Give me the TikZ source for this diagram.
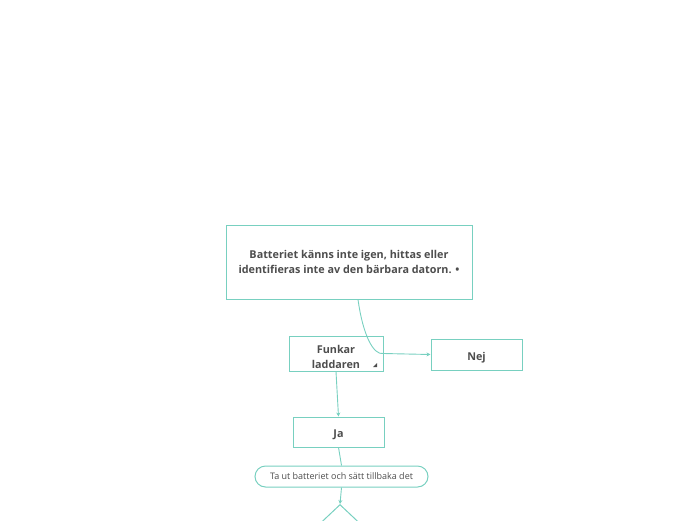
\documentclass[tikz,border=0pt]{standalone}
\usepackage{fontspec}
\setmainfont{Open Sans}
\usetikzlibrary{arrows.meta,positioning,calc}
\usetikzlibrary{shapes.geometric}

\definecolor{mapline}{RGB}{120,208,192}
\definecolor{maptext}{RGB}{77,77,77}

\tikzset{
  topic/.style={draw=mapline,line width=1pt,rectangle,text=maptext,
    font=\fontsize{10.8}{15}\selectfont\bfseries,align=center,anchor=center},
  leaf/.style={draw=mapline,line width=1pt,rectangle,rounded corners=10.5pt,
    text=maptext,font=\fontsize{9}{11}\selectfont,anchor=center},
  conn/.style={draw=mapline,line width=0.9pt},
  tip/.style={-{Stealth[length=4pt,width=4pt]}}
}

\begin{document}
\begin{tikzpicture}[x=1pt,y=1pt]

      \clip (0,0) rectangle (696,-520);

      \node[topic,minimum width = 246pt, minimum height = 74pt] at (349,-262) (batt)
        {Batteriet känns inte igen, hittas eller\\identifieras inte av den bärbara datorn. •};

      \node[topic,minimum width = 94pt, minimum height = 35pt] at (336,-353.5) (funkar) {};
      \node[text=maptext,font=\fontsize{10.8}{15}\selectfont\bfseries,align=center,anchor=center]
        at (336,-357) (funkartxt) {Funkar\\laddaren};
      \fill[maptext] (373,-367) -- (377,-367) -- (377,-363) -- cycle;

      \node[topic,text height=11pt,text depth=0pt,minimum width = 91pt, minimum height = 31pt]
        at (476.5,-354.5) (nej) {Nej};

      \node[topic,text height=10pt,text depth=0pt,minimum width = 91pt, minimum height = 30pt]
        at (338.5,-432) (ja) {Ja};

      \node[leaf,minimum width = 173pt, minimum height = 21pt] at (341.5,-476.5) (tautbat)
        {Ta ut batteriet och sätt tillbaka det};

      \node[draw=mapline,line width=1pt,diamond,shape aspect=1,minimum width = 70pt,
        minimum height = 66pt,anchor = north] at (340,-504) (fraga) {};

      \coordinate (battout) at ($(batt.south)+(9,0)$);
      \draw[conn,tip] (battout) .. controls ($(battout)+(5,-36)$) and ($(funkar.east)+(-10,-2)$) .. (funkar.east) -- (nej.west);
      \draw[conn,tip] (funkar.south) -- (ja.north);
      \draw[conn] (ja.south) -- (tautbat.north);
      \draw[conn,tip] (tautbat.south) -- (fraga.north);

    \end{tikzpicture}
\end{document}
